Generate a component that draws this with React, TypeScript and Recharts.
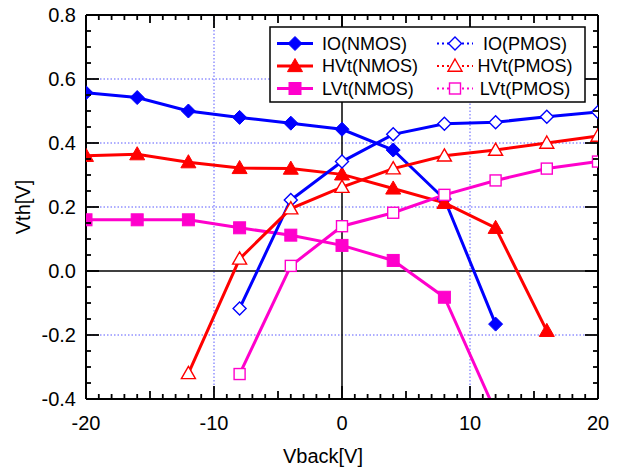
import React from 'react';
import { LineChart, Line, XAxis, YAxis, ReferenceLine } from 'recharts';

const vback = [-20, -16, -12, -8, -4, 0, 4, 8, 12, 16, 20];
const ioNmos = [0.557, 0.542, 0.5, 0.48, 0.462, 0.443, 0.378, 0.225, -0.166, null, null];
const hvtNmos = [0.36, 0.365, 0.34, 0.322, 0.32, 0.302, 0.258, 0.213, 0.135, -0.187, null];
const lvtNmos = [0.16, 0.16, 0.16, 0.135, 0.112, 0.08, 0.033, -0.082, -0.44, null, null];
const ioPmos = [null, null, null, -0.117, 0.222, 0.342, 0.427, 0.46, 0.465, 0.482, 0.497];
const hvtPmos = [null, null, -0.32, 0.038, 0.195, 0.262, 0.32, 0.36, 0.378, 0.4, 0.422];
const lvtPmos = [null, null, null, -0.322, 0.016, 0.14, 0.182, 0.238, 0.283, 0.32, 0.342];

const xLabels = [-20, -10, 0, 10, 20];
const yLabels = [-0.4, -0.2, 0.0, 0.2, 0.4, 0.6, 0.8];
const xGrid = [-10, 10];
const yGrid = [-0.2, 0.2, 0.4, 0.6];

const BLUE = '#0000ff';
const RED = '#ff0000';
const PINK = '#ff00cc';
const FONT = '"Liberation Sans", Arial, sans-serif';

const data = vback.map((v, i) => ({
  v,
  ioN: ioNmos[i],
  hvtN: hvtNmos[i],
  lvtN: lvtNmos[i],
  ioP: ioPmos[i],
  hvtP: hvtPmos[i],
  lvtP: lvtPmos[i],
}));

// minor tick positions (every 1 V on x, every 0.05 V on y)
const xTicks: number[] = [];
for (let i = -20; i <= 20; i++) xTicks.push(i);
const yTicks: number[] = [];
for (let i = -8; i <= 16; i++) yTicks.push(Math.round(i * 5) / 100);

const isMajorY = (v: number) => yLabels.some((l) => Math.abs(l - v) < 1e-6);

const Marker = ({ kind, x, y, color, open }: any) => {
  const fill = open ? '#fff' : color;
  const sw = open ? 1.4 : 1;
  if (kind === 'diamond') {
    const r = open ? 6.5 : 7;
    return <polygon points={`${x},${y - r} ${x + r},${y} ${x},${y + r} ${x - r},${y}`} fill={fill} stroke={color} strokeWidth={sw} />;
  }
  if (kind === 'triangle') {
    const r = open ? 7 : 7.5;
    return <polygon points={`${x},${y - r} ${x + r},${y + r * 0.75} ${x - r},${y + r * 0.75}`} fill={fill} stroke={color} strokeWidth={sw} />;
  }
  const r = open ? 5.5 : 6;
  return <rect x={x - r} y={y - r} width={2 * r} height={2 * r} fill={fill} stroke={color} strokeWidth={sw} />;
};

const makeDot = (kind: string, color: string, open: boolean) => (p: any) => {
  if (p.cx == null || p.cy == null || p.value == null) return <g key={p.index} />;
  return <Marker key={p.index} kind={kind} x={p.cx} y={p.cy} color={color} open={open} />;
};

const xTickLen = (v: number) => (v % 10 === 0 ? 13 : v % 5 === 0 ? 8 : 5);
const yTickLen = (v: number) => (isMajorY(v) ? 13 : 5);

const TICK = { stroke: '#000', strokeWidth: 1.8, fill: 'none' };

const BottomTick = ({ x, y, payload }: any) => {
  const v = payload.value;
  return (
    <g>
      <path d={`M${x},${y}V${y - xTickLen(v)}`} {...TICK} />
      {xLabels.includes(v) && (
        <text x={x} y={y + 31} textAnchor="middle" fontSize={20} fontFamily={FONT} fill="#000">{v}</text>
      )}
    </g>
  );
};

const TopTick = ({ x, y, payload }: any) => (
  <path d={`M${x},${y}V${y + xTickLen(payload.value)}`} {...TICK} />
);

const LeftTick = ({ x, y, payload }: any) => {
  const v = payload.value;
  return (
    <g>
      <path d={`M${x},${y}H${x + yTickLen(v)}`} {...TICK} />
      {isMajorY(v) && (
        <text x={x - 10} y={y} dy="0.36em" textAnchor="end" fontSize={20} fontFamily={FONT} fill="#000">{v.toFixed(1)}</text>
      )}
    </g>
  );
};

const RightTick = ({ x, y, payload }: any) => (
  <path d={`M${x},${y}H${x - yTickLen(payload.value)}`} {...TICK} />
);

const YTitle = ({ viewBox }: any) => {
  const cy = viewBox.y + viewBox.height / 2;
  return (
    <text x={23} y={cy} transform={`rotate(-90, 23, ${cy})`} textAnchor="middle" dy="0.36em" fontSize={20} fontFamily={FONT} fill="#000">Vth[V]</text>
  );
};

const XTitle = () => (
  <text x={323} y={463} textAnchor="middle" fontSize={20} fontFamily={FONT} fill="#000">Vback[V]</text>
);

const legendItems = [
  { name: 'IO(NMOS)', kind: 'diamond', color: BLUE, open: false },
  { name: 'IO(PMOS)', kind: 'diamond', color: BLUE, open: true },
  { name: 'HVt(NMOS)', kind: 'triangle', color: RED, open: false },
  { name: 'HVt(PMOS)', kind: 'triangle', color: RED, open: true },
  { name: 'LVt(NMOS)', kind: 'square', color: PINK, open: false },
  { name: 'LVt(PMOS)', kind: 'square', color: PINK, open: true },
];

const ChartLegend = () => (
  <svg width={318} height={78} style={{ position: 'absolute', left: 269, top: 26 }}>
    <rect x={1} y={1} width={315} height={75} fill="#fff" stroke="#000" strokeWidth={1.5} />
    {legendItems.map((it, i) => {
      const row = Math.floor(i / 2);
      const col = i % 2;
      const cy = 17.5 + row * 22.5;
      const lx = col === 0 ? 8 : 168;
      return (
        <g key={it.name}>
          <line x1={lx} x2={lx + 36} y1={cy} y2={cy} stroke={it.color} strokeWidth={it.open ? 2 : 3} strokeDasharray={it.open ? '2 3' : undefined} />
          <Marker kind={it.kind} x={lx + 18} y={cy} color={it.color} open={it.open} />
          <text
            x={col === 0 ? 53 : 256}
            y={cy}
            dy="0.36em"
            textAnchor={col === 0 ? 'start' : 'middle'}
            fontSize={18}
            fontFamily={FONT}
            fill="#000"
          >
            {it.name}
          </text>
        </g>
      );
    })}
  </svg>
);

export default function App() {
  return (
    <div style={{ position: 'absolute', left: 0, top: 0, width: 618, height: 470, background: '#fff' }}>
      <LineChart width={618} height={470} data={data} margin={{ top: 14, right: 19, left: 0, bottom: 1 }}>
        {xGrid.map((g) => (
          <ReferenceLine key={`xg${g}`} x={g} stroke="#5a5aff" strokeDasharray="1.5 2" strokeWidth={1} />
        ))}
        {yGrid.map((g) => (
          <ReferenceLine key={`yg${g}`} y={g} stroke="#5a5aff" strokeDasharray="1.5 2" strokeWidth={1} />
        ))}
        <ReferenceLine x={0} stroke="#000" strokeWidth={1.5} />
        <ReferenceLine y={0} stroke="#000" strokeWidth={1.5} />
        <XAxis
          dataKey="v"
          type="number"
          domain={[-20, 20]}
          allowDataOverflow
          ticks={xTicks}
          interval={0}
          height={70}
          tickSize={0}
          tickMargin={0}
          tickLine={false}
          tick={<BottomTick />}
          axisLine={{ stroke: '#000', strokeWidth: 2 }}
          label={<XTitle />}
        />
        <XAxis
          xAxisId="top"
          dataKey="v"
          orientation="top"
          type="number"
          domain={[-20, 20]}
          allowDataOverflow
          ticks={xTicks}
          interval={0}
          height={1}
          tickSize={0}
          tickMargin={0}
          tickLine={false}
          tick={<TopTick />}
          axisLine={{ stroke: '#000', strokeWidth: 2 }}
        />
        <YAxis
          type="number"
          domain={[-0.4, 0.8]}
          allowDataOverflow
          ticks={yTicks}
          interval={0}
          width={86}
          tickSize={0}
          tickMargin={0}
          tickLine={false}
          tick={<LeftTick />}
          axisLine={{ stroke: '#000', strokeWidth: 2 }}
          label={<YTitle />}
        />
        <YAxis
          yAxisId="right"
          orientation="right"
          type="number"
          domain={[-0.4, 0.8]}
          allowDataOverflow
          ticks={yTicks}
          interval={0}
          width={1}
          tickSize={0}
          tickMargin={0}
          tickLine={false}
          tick={<RightTick />}
          axisLine={{ stroke: '#000', strokeWidth: 2 }}
        />
        {/* invisible series so the mirrored top/right axes get drawn */}
        <Line xAxisId="top" yAxisId="right" dataKey="ioN" stroke="none" dot={false} activeDot={false} legendType="none" isAnimationActive={false} />
        <Line dataKey="ioN" stroke={BLUE} strokeWidth={3} dot={makeDot('diamond', BLUE, false)} isAnimationActive={false} />
        <Line dataKey="hvtN" stroke={RED} strokeWidth={3} dot={makeDot('triangle', RED, false)} isAnimationActive={false} />
        <Line dataKey="lvtN" stroke={PINK} strokeWidth={3} dot={makeDot('square', PINK, false)} isAnimationActive={false} />
        <Line dataKey="ioP" stroke={BLUE} strokeWidth={3} dot={makeDot('diamond', BLUE, true)} isAnimationActive={false} />
        <Line dataKey="hvtP" stroke={RED} strokeWidth={3} dot={makeDot('triangle', RED, true)} isAnimationActive={false} />
        <Line dataKey="lvtP" stroke={PINK} strokeWidth={3} dot={makeDot('square', PINK, true)} isAnimationActive={false} />
      </LineChart>
      <ChartLegend />
    </div>
  );
}
